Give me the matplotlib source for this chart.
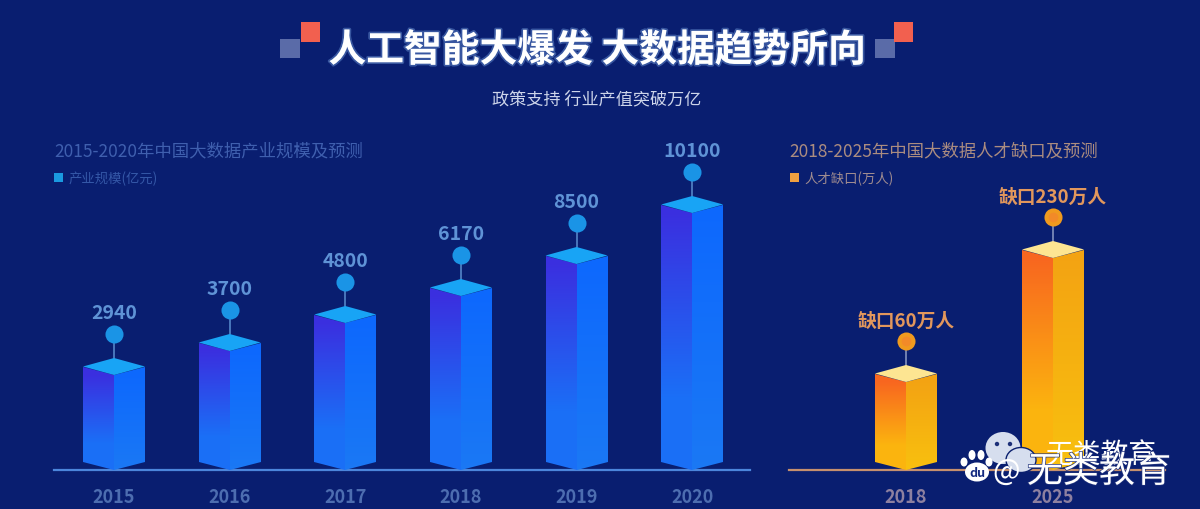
import numpy as np
import matplotlib
matplotlib.use("Agg")
import matplotlib.pyplot as plt
from matplotlib.colors import to_rgb
from matplotlib.patches import Polygon, Rectangle, Ellipse, Circle
import matplotlib.patheffects as pe

plt.rcParams['font.family'] = ['Noto Sans CJK SC', 'DejaVu Sans']

# ---------- data ----------
years_left = ['2015', '2016', '2017', '2018', '2019', '2020']
size_values = [2940, 3700, 4800, 6170, 8500, 10100]
years_right = ['2018', '2025']
gap_values = [60, 230]
gap_labels = ['缺口60万人', '缺口230万人']

# The picture's bars are not proportional: drawn height (px) for each value.
size_knots = [0, 2940, 3700, 4800, 6170, 8500, 10100, 14000]
size_knot_px = [0, 112, 136, 164, 191, 223, 274, 351]
gap_knots = [0, 60, 230, 320]
gap_knot_px = [0, 105, 229, 351]

W, H = 1200, 510
BG = '#091e70'
fig = plt.figure(figsize=(W / 100, H / 100), dpi=100, facecolor=BG)


def px_axes(x0, x1, y_top, y_bot, **kw):
    return fig.add_axes([x0 / W, 1 - y_bot / H, (x1 - x0) / W, (y_bot - y_top) / H], **kw)


def mix(a, b, t):
    a, b = np.array(to_rgb(a)), np.array(to_rgb(b))
    return a + (b - a) * t


def prism_chart(ax, cats, vals, labels, knots, knot_px, half, pal):
    fwd = lambda v: np.interp(v, knots, knot_px)
    inv = lambda h: np.interp(h, knot_px, knots)
    ax.set_facecolor('none')
    ax.set_yscale('function', functions=(fwd, inv))
    ax.set_ylim(0, knots[-1])
    ax.set_xlim(*pal['xlim'])
    ax.set_yticks([])
    ax.minorticks_off()
    ax.set_xticks(range(len(cats)), cats)
    ax.tick_params(axis='x', length=0, pad=12, labelsize=13, labelcolor=pal['tick'])
    for t in ax.get_xticklabels():
        t.set_fontweight('bold')
    for s in ('left', 'right', 'top'):
        ax.spines[s].set_visible(False)
    ax.spines['bottom'].set_color(pal['axis'])
    ax.spines['bottom'].set_linewidth(1.6)

    rim = 8.5
    for i, (v, lab) in enumerate(zip(vals, labels)):
        h = float(fwd(v))
        y = lambda px: float(inv(px))
        for side, x0, x1, top_px, ctop, cbot, span in (
            ('L', i - half, i, h - rim, pal['lt'], pal['lb'], 0.72),
            ('R', i, i + half, h - rim, pal['rt'], pal['rb'], 1.0),
        ):
            rows = 280
            edges_px = np.linspace(0, h, rows + 1)
            mids = (edges_px[:-1] + edges_px[1:]) / 2
            t = np.clip((h - 17 - mids) / (span * (h - 17)), 0, 1)
            rgb = np.array([mix(ctop, cbot, a) for a in t]).reshape(rows, 1, 3)
            mesh = ax.pcolormesh([x0, x1], inv(edges_px), rgb, shading='flat',
                                 antialiased=False, linewidth=0, zorder=3, clip_on=True)
            if side == 'L':
                pts = [(i - half, y(h - rim)), (i, y(h - 2 * rim)), (i, 0), (i - half, y(rim))]
            else:
                pts = [(i + half, y(h - rim)), (i, y(h - 2 * rim)), (i, 0), (i + half, y(rim))]
            clip = Polygon(pts, closed=True, transform=ax.transData, fc='none', ec='none')
            ax.add_patch(clip)
            mesh.set_clip_path(clip)
        ax.add_patch(Polygon([(i - half, y(h - rim)), (i, y(h)), (i + half, y(h - rim)), (i, y(h - 2 * rim))],
                             closed=True, fc=pal['cap'], ec='none', zorder=4))
        pin = y(h + 24)
        ax.plot([i, i], [v, pin], color=pal['stem'], lw=1.1, zorder=2, clip_on=False)
        ax.plot([i], [pin], marker='o', ms=13, mfc=pal['pin'], mec='none', zorder=5, clip_on=False)
        if pal['pin2']:
            ax.plot([i], [pin], marker='o', ms=7, mfc=pal['pin2'], mec='none', zorder=6, clip_on=False)
        ax.annotate(lab, (i, v), xytext=(0, pal['lab_dy']), textcoords='offset points', ha='center',
                    va='center', color=pal['label'], fontsize=pal['lab_fs'], fontweight='bold',
                    annotation_clip=False, zorder=6)


left_pal = dict(xlim=(-0.519, 5.5), tick='#4d6db0', axis='#4c86dc', lt='#3a2fdf', lb='#1a6ff6',
                rt='#0d68fd', rb='#1a78f4', cap='#18a4f5', stem='#5a8fd0', pin='#1a94e6', pin2=None,
                label='#5f93d6', lab_fs=14, lab_dy=33)
right_pal = dict(xlim=(-0.796, 1.762), tick='#8d80a0', axis='#c6906e', lt='#f8661f', lb='#fbb40e',
                 rt='#f3a312', rb='#f8c00e', cap='#fde592', stem='#8d9cc4', pin='#f09a1e', pin2='#f28a28',
                 label='#e2975c', lab_fs=13.5, lab_dy=32)

ax1 = px_axes(54, 750, 120, 471)
prism_chart(ax1, years_left, size_values, [str(v) for v in size_values],
            size_knots, size_knot_px, 0.268, left_pal)
ax2 = px_axes(789, 1165, 120, 471)
prism_chart(ax2, years_right, gap_values, gap_labels, gap_knots, gap_knot_px, 0.211, right_pal)

# ---------- overlay in pixel coordinates: headings and decoration ----------
ov = fig.add_axes([0, 0, 1, 1], facecolor='none', zorder=10)
ov.set_xlim(0, W)
ov.set_ylim(H, 0)
ov.axis('off')

for rx, gx in ((301, 280), (894, 875)):
    ov.add_patch(Rectangle((gx, 40), 20, 19, fc='#5a6ba8', ec='none'))
    ov.add_patch(Rectangle((rx, 23), 19, 20, fc='#f2604f', ec='none'))

ov.text(597, 51, '人工智能大爆发 大数据趋势所向', ha='center', va='center', color='white',
        fontsize=27.2, fontweight='bold',
        path_effects=[pe.withStroke(linewidth=2.5, foreground='#5f86c8', alpha=0.55)])
ov.text(597, 99, '政策支持 行业产值突破万亿', ha='center', va='center', color='#cdd5ea', fontsize=12.3)

ov.text(54, 151, '2015-2020年中国大数据产业规模及预测', ha='left', va='center', color='#3f5fae', fontsize=12.5)
ov.add_patch(Rectangle((54, 174), 9, 9, fc='#1a9ae0', ec='none'))
ov.text(69, 178.5, '产业规模(亿元)', ha='left', va='center', color='#3558a8', fontsize=9.6)

ov.text(789, 151, '2018-2025年中国大数据人才缺口及预测', ha='left', va='center', color='#ab8c80', fontsize=12.5)
ov.add_patch(Rectangle((790, 174), 9, 9, fc='#f0a040', ec='none'))
ov.text(804, 178.5, '人才缺口(万人)', ha='left', va='center', color='#a08c90', fontsize=9.6)

# watermark
ov.add_patch(Ellipse((1003, 449), 35, 32, fc='#d6deee', ec='none'))
ov.add_patch(Circle((997, 445), 2.2, fc='#1c2f78', ec='none'))
ov.add_patch(Circle((1010, 445), 2.2, fc='#1c2f78', ec='none'))
ov.add_patch(Ellipse((1021, 461), 30, 25, fc='#d6deee', ec='#0a1f6e', lw=1))
ov.text(1101, 455, '无类教育', ha='center', va='center', color='white', fontsize=20)
for cx, cy, rx_, ry_ in ((965, 463, 3.5, 4.5), (973, 456, 3.5, 5), (982, 456, 3.5, 5), (990, 463, 3.5, 4.5)):
    ov.add_patch(Ellipse((cx - 1, cy), rx_ * 2, ry_ * 2, fc='white', ec='none'))
ov.add_patch(Ellipse((977, 473), 24, 19, fc='white', ec='none'))
ov.text(977, 474, 'du', ha='center', va='center', color='#142a80', fontsize=9, fontweight='bold')
ov.text(1006, 472, '@', ha='center', va='center', color='white', fontsize=21)
ov.text(1099, 473, '无类教育', ha='center', va='center', color='white', fontsize=26,
        path_effects=[pe.withStroke(linewidth=1, foreground='#22347e')])

fig.savefig('out.png', dpi=100, facecolor=BG)
